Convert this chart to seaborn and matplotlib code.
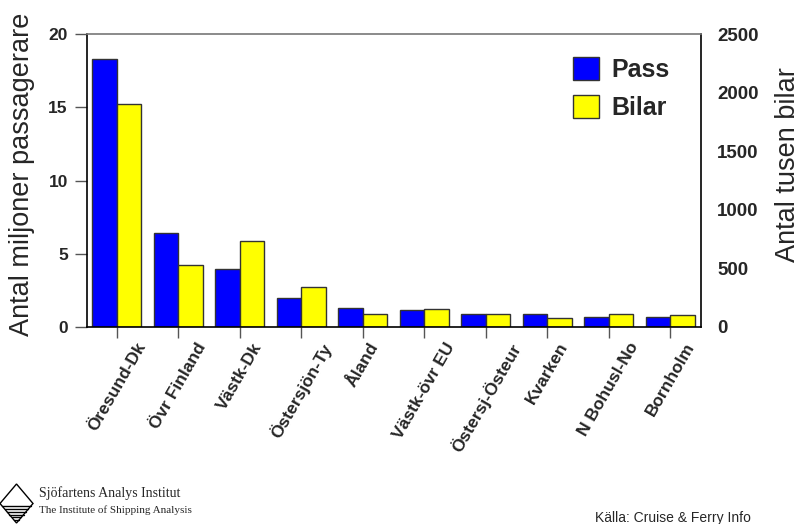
import numpy as np
import pandas as pd
import matplotlib
matplotlib.use('Agg')
import matplotlib.pyplot as plt
import seaborn as sns
from matplotlib.patches import Polygon, Patch

# Data
routes = ['Öresund-Dk', 'Övr Finland', 'Västk-Dk', 'Östersjön-Ty', 'Åland',
          'Västk-övr EU', 'Östersj-Östeur', 'Kvarken', 'N Bohusl-No', 'Bornholm']
pass_mil = [18.3, 6.45, 3.95, 1.95, 1.28, 1.15, 0.88, 0.86, 0.68, 0.68]
bilar_tusen = [1900, 525, 735, 340, 110, 150, 115, 75, 108, 100]
left_ticks = [0, 5, 10, 15, 20]
right_ticks = [0, 500, 1000, 1500, 2000, 2500]

sns.set_style('white')
plt.rcParams['font.family'] = ['Liberation Sans', 'DejaVu Sans']

# bilar drawn on the left scale, then read on the twin axis (2500 <-> 20)
scale = right_ticks[-1] / left_ticks[-1]
df = pd.DataFrame({
    'route': routes * 2,
    'serie': ['Pass'] * len(routes) + ['Bilar'] * len(routes),
    'value': pass_mil + [b / scale for b in bilar_tusen],
})

fig = plt.figure(figsize=(8.03, 5.24), dpi=100)
ax = fig.add_axes([0.108, 0.376, 0.765, 0.559])

sns.barplot(data=df, x='route', y='value', hue='serie', order=routes,
            hue_order=['Pass', 'Bilar'], palette=['#0000ff', '#ffff00'],
            width=0.8, edgecolor='#333333', linewidth=1, saturation=1,
            legend=False, ax=ax)

ax.set_xlim(-0.49, len(routes) - 0.5)
ax.set_ylim(0, 20)
ax.set_yticks(left_ticks)
ax.set_yticklabels([str(t) for t in left_ticks], fontsize=12.5, fontweight='bold')
ax.set_xticks(range(len(routes)))
ax.set_xticklabels(routes, rotation=60, fontsize=12.5, fontweight='bold')
ax.set_xlabel('')
ax.set_ylabel('')
ax.tick_params(axis='y', direction='out', length=8.6, width=1, color='#555555', pad=5, left=True)
ax.tick_params(axis='x', direction='out', length=8, width=1, color='#555555', pad=1.5, bottom=True)

for s in ['left', 'bottom', 'right']:
    ax.spines[s].set_color('black')
    ax.spines[s].set_linewidth(1.2)
ax.spines['top'].set_color('#777777')
ax.spines['top'].set_linewidth(1.2)

ax2 = ax.twinx()
ax2.set_ylim(0, right_ticks[-1])
ax2.set_yticks(right_ticks)
ax2.set_yticklabels([str(t) for t in right_ticks], fontsize=13.5, fontweight='bold')
ax2.tick_params(axis='y', length=0, pad=11.5)
for s in ax2.spines.values():
    s.set_visible(False)

fig.text(22 / 803, 1 - 174 / 524, 'Antal miljoner passagerare', rotation=90,
         fontsize=19.5, ha='center', va='center')
fig.text(788 / 803, 1 - 165 / 524, 'Antal tusen bilar', rotation=90,
         fontsize=19.5, ha='center', va='center')

handles = [Patch(facecolor='#0000ff', edgecolor='#333333', label='Pass'),
           Patch(facecolor='#ffff00', edgecolor='#333333', label='Bilar')]
ax.legend(handles=handles, loc='upper left', bbox_to_anchor=(573 / 803, 1 - 57 / 524),
          bbox_transform=fig.transFigure, frameon=False,
          prop={'size': 18, 'weight': 'bold'}, handlelength=1.05,
          handleheight=1.05, handletextpad=0.5, labelspacing=0.5,
          borderaxespad=0, borderpad=0)

# logo bottom left
cx, cy, hw, hh = 16.5 / 803, 1 - 503.5 / 524, 16.5 / 803, 19.5 / 524
fig.patches.append(Polygon([(cx - hw, cy), (cx, cy + hh), (cx + hw, cy), (cx, cy - hh)],
                           closed=True, fill=False, edgecolor='black', linewidth=1,
                           transform=fig.transFigure, figure=fig))
for k in range(1, 7):
    yy = cy - hh * k / 7
    dx = hw * (1 - k / 7)
    fig.add_artist(plt.Line2D([cx - dx, cx + dx], [yy, yy], color='black',
                              linewidth=1, transform=fig.transFigure))
fig.text(39 / 803, 1 - 497 / 524, 'Sjöfartens Analys Institut',
         family='Liberation Serif', fontsize=10, va='baseline')
fig.text(39 / 803, 1 - 513 / 524, 'The Institute of Shipping Analysis',
         family='Liberation Serif', fontsize=8, va='baseline')
fig.text(595 / 803, 1 - 522 / 524, 'Källa: Cruise & Ferry Info',
         fontsize=10, va='baseline')

fig.savefig('out.png', dpi=100)
